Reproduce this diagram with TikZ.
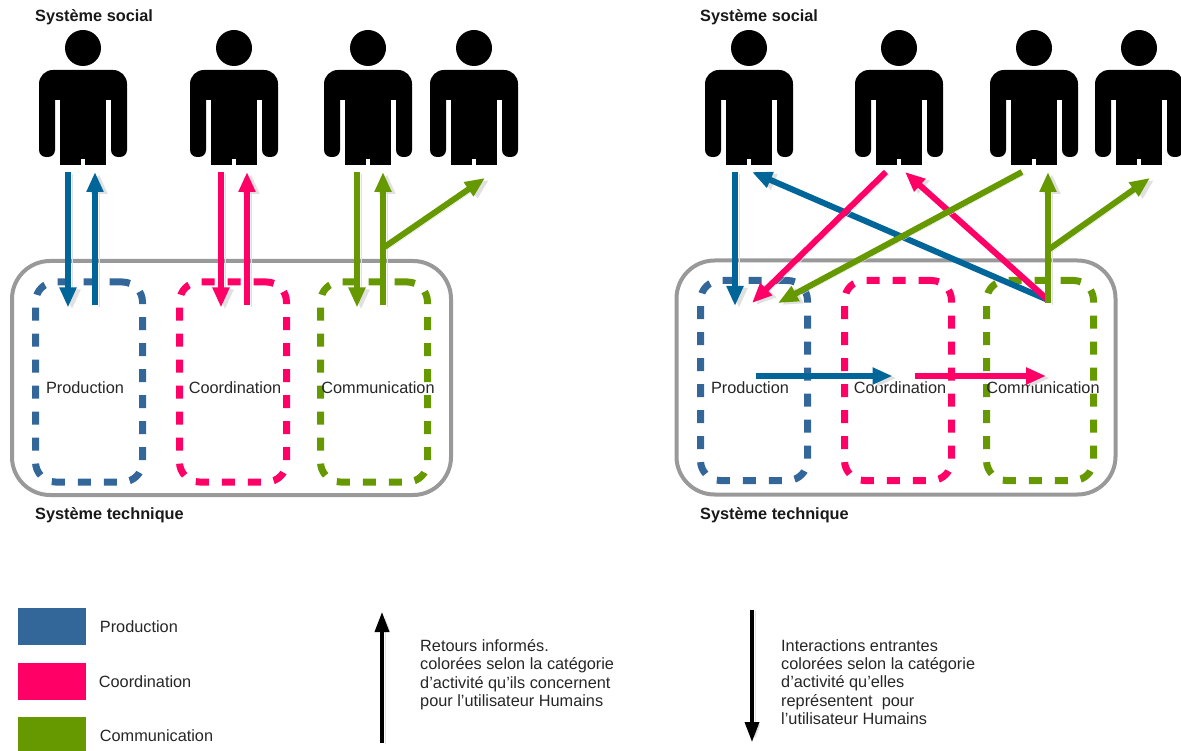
\documentclass[tikz,border=0pt]{standalone}
\usepackage{fontspec}
\setmainfont{Liberation Sans}
\usetikzlibrary{arrows.meta,positioning}

\definecolor{prodcol}{HTML}{336699}
\definecolor{prodarrow}{HTML}{006699}
\definecolor{coordcol}{HTML}{FF0066}
\definecolor{commcol}{HTML}{669900}

% silhouette of a user
\tikzset{
  person/.pic={
    \fill (0,48) circle (18pt);
    \fill[rounded corners=14pt] (-44,100) -- (-44,70) -- (44,70) -- (44,100) -- cycle;
    \fill[rounded corners=7pt] (-44,80) rectangle (-28,157);
    \fill[rounded corners=7pt] (28,80) rectangle (44,157);
    \fill (-23,90) rectangle (23,165);
    \fill[white] (-2,159) rectangle (2,166);
    \coordinate (-foot) at (0,172);
  }
}

\begin{document}
\begin{tikzpicture}[x=1pt, y=-1pt,
    systitle/.style={anchor=base west, inner sep=0, font=\fontsize{16.3}{20}\selectfont\bfseries, text=black!90},
    sysframe/.style={draw=black!40, line width=4pt, rounded corners=38pt, minimum width=439pt, minimum height=234pt},
    actzone/.style={draw=#1, line width=7pt, dash pattern=on 13pt off 13pt, rounded corners=20pt, minimum width=107pt, minimum height=200pt},
    zonetext/.style={inner sep=0, font=\fontsize{16.3}{20}\selectfont, text=black!85},
    flowarrow/.style={draw=#1, line width=6pt, -{Triangle[length=20pt,width=16pt]}, preaction={draw=black!12, transform canvas={shift={(4pt,-2pt)}}}},
    legarrow/.style={line width=3.5pt, -{Triangle[length=20pt,width=14pt]}, preaction={draw=black!12, transform canvas={shift={(3pt,-1pt)}}}},
    legkey/.style={fill=#1, minimum width=68pt, minimum height=37pt, inner sep=0},
    keytext/.style={inner sep=0, font=\fontsize{16.3}{20}\selectfont, text=black!85},
    notetext/.style={anchor=north west, align=left, inner sep=0, font=\fontsize{16.3}{18.4}\selectfont, text=black!85}]
  \useasboundingbox (0,0) rectangle (1181,751);

  % left: one arrow pair per activity
  \node[systitle] (socL) at (35,22) {Système social};
  \node[systitle] (techL) at (35,519) {Système technique};
  \node[sysframe] (sysL) at (231.5,378) {};
  \node[actzone=prodcol] (prodL) at (89,382) {};
  \node[actzone=coordcol] (coordL) at (233,382) {};
  \node[actzone=commcol] (commL) at (374,382) {};
  \node[zonetext] (tprodL) at (85,388) {Production};
  \node[zonetext] (tcoordL) at (235,388) {Coordination};
  \node[zonetext] (tcommL) at (378,388) {Communication};
  \coordinate (prodL-in) at ([yshift=-29pt]prodL.north);
  \coordinate (coordL-in) at ([yshift=-29pt]coordL.north);
  \coordinate (commL-in) at ([yshift=-29pt]commL.north);
  \pic (sl1) at (83,0) {person};
  \pic (sl2) at (234,0) {person};
  \pic (sl3) at (368,0) {person};
  \pic (sl4) at (474,0) {person};
  \draw[flowarrow=prodarrow] ([xshift=-15pt]sl1-foot) -- ([xshift=-21pt]prodL-in);
  \draw[flowarrow=prodarrow] ([xshift=6pt,yshift=2pt]prodL-in) -- ([xshift=12pt]sl1-foot);
  \draw[flowarrow=coordcol] ([xshift=-13pt]sl2-foot) -- ([xshift=-12pt]coordL-in);
  \draw[flowarrow=coordcol] ([xshift=14pt,yshift=2pt]coordL-in) -- ([xshift=13pt]sl2-foot);
  \draw[flowarrow=commcol] ([xshift=-11pt]sl3-foot) -- ([xshift=-17pt]commL-in);
  \draw[flowarrow=commcol] ([xshift=9pt,yshift=2pt]commL-in) -- ([xshift=15pt]sl3-foot);
  \draw[flowarrow=commcol] ([xshift=15pt,yshift=-76pt]sl3-foot) -- ([xshift=11pt,yshift=-6pt]sl4-foot);

  % right: crossed interactions
  \node[systitle] (socR) at (700,22) {Système social};
  \node[systitle] (techR) at (700,519) {Système technique};
  \node[sysframe] (sysR) at (896,377.5) {};
  \node[actzone=prodcol] (prodR) at (754,380.5) {};
  \node[actzone=coordcol] (coordR) at (898,380.5) {};
  \node[actzone=commcol] (commR) at (1040,380.5) {};
  \node[zonetext] (tprodR) at (750,388) {Production};
  \node[zonetext] (tcoordR) at (900,388) {Coordination};
  \node[zonetext] (tcommR) at (1043,388) {Communication};
  \coordinate (prodR-in) at ([yshift=-29pt]prodR.north);
  \coordinate (commR-in) at ([yshift=-29pt]commR.north);
  \coordinate (hub) at ([xshift=8pt,yshift=6pt]commR-in);
  \pic (sr1) at (749,0) {person};
  \pic (sr2) at (899,0) {person};
  \pic (sr3) at (1034,0) {person};
  \pic (sr4) at (1139,0) {person};
  \draw[flowarrow=prodarrow] ([xshift=-14pt]sr1-foot) -- ([xshift=-19pt]prodR-in);
  \draw[flowarrow=prodarrow] (hub) -- ([xshift=3pt]sr1-foot);
  \draw[flowarrow=coordcol] ([xshift=-13pt]sr2-foot) -- ([xshift=-2pt,yshift=3pt]prodR-in);
  \draw[flowarrow=coordcol] (hub) -- ([xshift=6pt]sr2-foot);
  \draw[flowarrow=commcol] ([xshift=-12pt]sr3-foot) -- ([xshift=24pt,yshift=3pt]prodR-in);
  \draw[flowarrow=commcol] ([yshift=-3pt]hub) -- ([xshift=14pt]sr3-foot);
  \draw[flowarrow=commcol] ([xshift=14pt,yshift=-78pt]sr3-foot) -- ([xshift=11pt,yshift=-6pt]sr4-foot);
  \draw[flowarrow=prodarrow] ([xshift=2pt,yshift=4.5pt]prodR.center) -- ([xshift=-5.5pt,yshift=4.5pt]coordR.center);
  \draw[flowarrow=coordcol] ([xshift=16.5pt,yshift=4.5pt]coordR.center) -- ([xshift=6pt,yshift=4.5pt]commR.center);

  % legend
  \node[legkey=prodcol] (kprod) at (51.5,626.5) {};
  \node[legkey=coordcol] (kcoord) at (51.5,681.5) {};
  \node[legkey=commcol] (kcomm) at (51.5,735.5) {};
  \node[keytext, right=14pt of kprod] (lprod) {Production};
  \node[keytext, right=13pt of kcoord] (lcoord) {Coordination};
  \node[keytext, right=14pt of kcomm] (lcomm) {Communication};
  \coordinate (upfoot) at (382,743);
  \coordinate (uptip) at (382,612);
  \coordinate (downtop) at (752,610);
  \coordinate (downtip) at (752,742);
  \draw[legarrow] (upfoot) -- (uptip);
  \draw[legarrow] (downtop) -- (downtip);
  \node[notetext] (retours) at (420,639) {Retours informés.\\colorées selon la catégorie\\d’activité qu’ils concernent\\pour l’utilisateur Humains};
  \node[notetext] (entrantes) at (781,639) {Interactions entrantes\\colorées selon la catégorie\\d’activité qu’elles\\représentent~ pour\\l’utilisateur Humains};
\end{tikzpicture}
\end{document}
